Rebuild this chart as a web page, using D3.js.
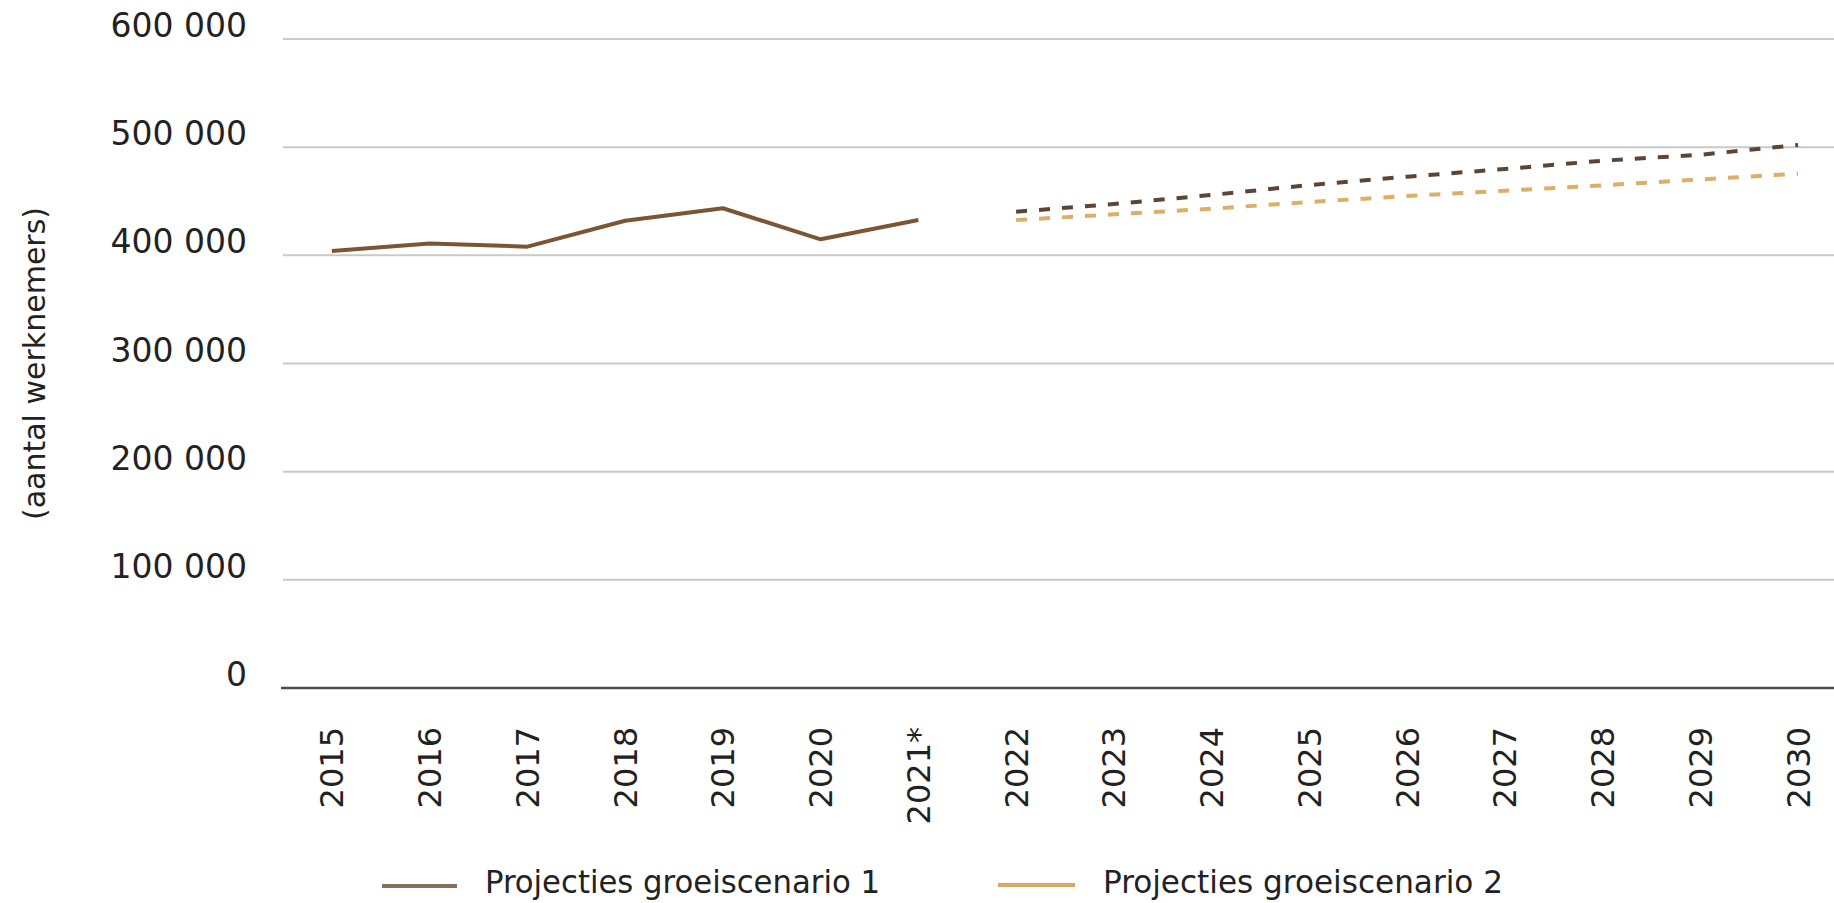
<!DOCTYPE html>
<html>
<head>
<meta charset="utf-8">
<script src="https://cdn.jsdelivr.net/npm/d3@7"></script>
<style>
  html, body { margin: 0; padding: 0; background: #ffffff; }
  svg { display: block; }
</style>
</head>
<body>
<svg id="chart" width="1834" height="903"></svg>
<script>
// ---- data ----
const years = ["2015","2016","2017","2018","2019","2020","2021*","2022","2023","2024","2025","2026","2027","2028","2029","2030"];
const historicalYears = ["2015","2016","2017","2018","2019","2020","2021*"];
const historicalValues = [404000, 411000, 408000, 432000, 443500, 414800, 432600];
const projectionYears = ["2022","2023","2024","2025","2026","2027","2028","2029","2030"];
const scenario1Values = [440300, 447500, 455800, 465000, 472700, 479800, 487500, 493000, 502000];
const scenario2Values = [432600, 437900, 443100, 449300, 454800, 459700, 464700, 470200, 475500];
const yTickValues = [0, 100000, 200000, 300000, 400000, 500000, 600000];
const yTitle = "(aantal werknemers)";
const legendLabels = ["Projecties groeiscenario 1", "Projecties groeiscenario 2"];

// ---- layout ----
const svg = d3.select("#chart");
const plotLeft = 283, plotRight = 1847, plotTop = 39, plotBottom = 688;
const FONT = "'DejaVu Sans', sans-serif";

const x = d3.scalePoint().domain(years).range([plotLeft, plotRight]).padding(0.5);
const y = d3.scaleLinear().domain([0, 600000]).range([plotBottom, plotTop]);
const fmt = v => d3.format(",")(v).replace(/,/g, " ");

// gridlines
svg.append("g").selectAll("line")
  .data(yTickValues.filter(v => v > 0))
  .join("line")
  .attr("x1", plotLeft).attr("x2", 1834)
  .attr("y1", d => y(d)).attr("y2", d => y(d))
  .attr("stroke", "#c9c9c9").attr("stroke-width", 2);

// zero axis line
svg.append("line")
  .attr("x1", plotLeft - 2).attr("x2", 1834)
  .attr("y1", y(0)).attr("y2", y(0))
  .attr("stroke", "#4a4a4a").attr("stroke-width", 2.5);

// y tick labels
svg.append("g").selectAll("text")
  .data(yTickValues)
  .join("text")
  .attr("x", 247).attr("y", d => y(d) - 2)
  .attr("text-anchor", "end")
  .attr("font-family", FONT).attr("font-size", 33)
  .attr("fill", "#222")
  .text(d => fmt(d));

// y title
svg.append("text")
  .attr("transform", `translate(34,${(plotTop + plotBottom) / 2}) rotate(-90)`)
  .attr("text-anchor", "middle")
  .attr("dy", "0.35em")
  .attr("font-family", FONT).attr("font-size", 30)
  .attr("fill", "#222")
  .text(yTitle);

// x tick labels (rotated)
svg.append("g").selectAll("text")
  .data(years)
  .join("text")
  .attr("transform", d => `translate(${x(d)},727) rotate(-90)`)
  .attr("text-anchor", "end")
  .attr("dy", "0.36em")
  .attr("font-family", FONT).attr("font-size", 32)
  .attr("fill", "#222")
  .text(d => d);

// lines
const line = d3.line().x(d => x(d[0])).y(d => y(d[1]));

svg.append("path")
  .datum(historicalYears.map((k, i) => [k, historicalValues[i]]))
  .attr("d", line)
  .attr("fill", "none").attr("stroke", "#7a5536")
  .attr("stroke-width", 4).attr("stroke-linejoin", "round");

svg.append("path")
  .datum(projectionYears.map((k, i) => [k, scenario2Values[i]]))
  .attr("d", line)
  .attr("fill", "none").attr("stroke", "#dcae66")
  .attr("stroke-width", 4).attr("stroke-dasharray", "11,12");

svg.append("path")
  .datum(projectionYears.map((k, i) => [k, scenario1Values[i]]))
  .attr("d", line)
  .attr("fill", "none").attr("stroke", "#5d4535")
  .attr("stroke-width", 4).attr("stroke-dasharray", "11,12");

// legend
const legendItems = [
  { label: legendLabels[0], color: "#84705c", x1: 382, x2: 457, tx: 485, ly: 886, tl: 395 },
  { label: legendLabels[1], color: "#d8a865", x1: 998, x2: 1075, tx: 1103, ly: 885, tl: 400 }
];
const lg = svg.append("g").selectAll("g").data(legendItems).join("g");
lg.append("line")
  .attr("x1", d => d.x1).attr("x2", d => d.x2)
  .attr("y1", d => d.ly).attr("y2", d => d.ly)
  .attr("stroke", d => d.color).attr("stroke-width", 4);
lg.append("text")
  .attr("x", d => d.tx).attr("y", 893)
  .attr("font-family", "'Liberation Sans Narrow', 'DejaVu Sans Condensed', 'Roboto', sans-serif")
  .attr("font-size", 32)
  .attr("fill", "#222")
  .attr("textLength", d => d.tl)
  .attr("lengthAdjust", "spacingAndGlyphs")
  .text(d => d.label);
</script>
</body>
</html>
